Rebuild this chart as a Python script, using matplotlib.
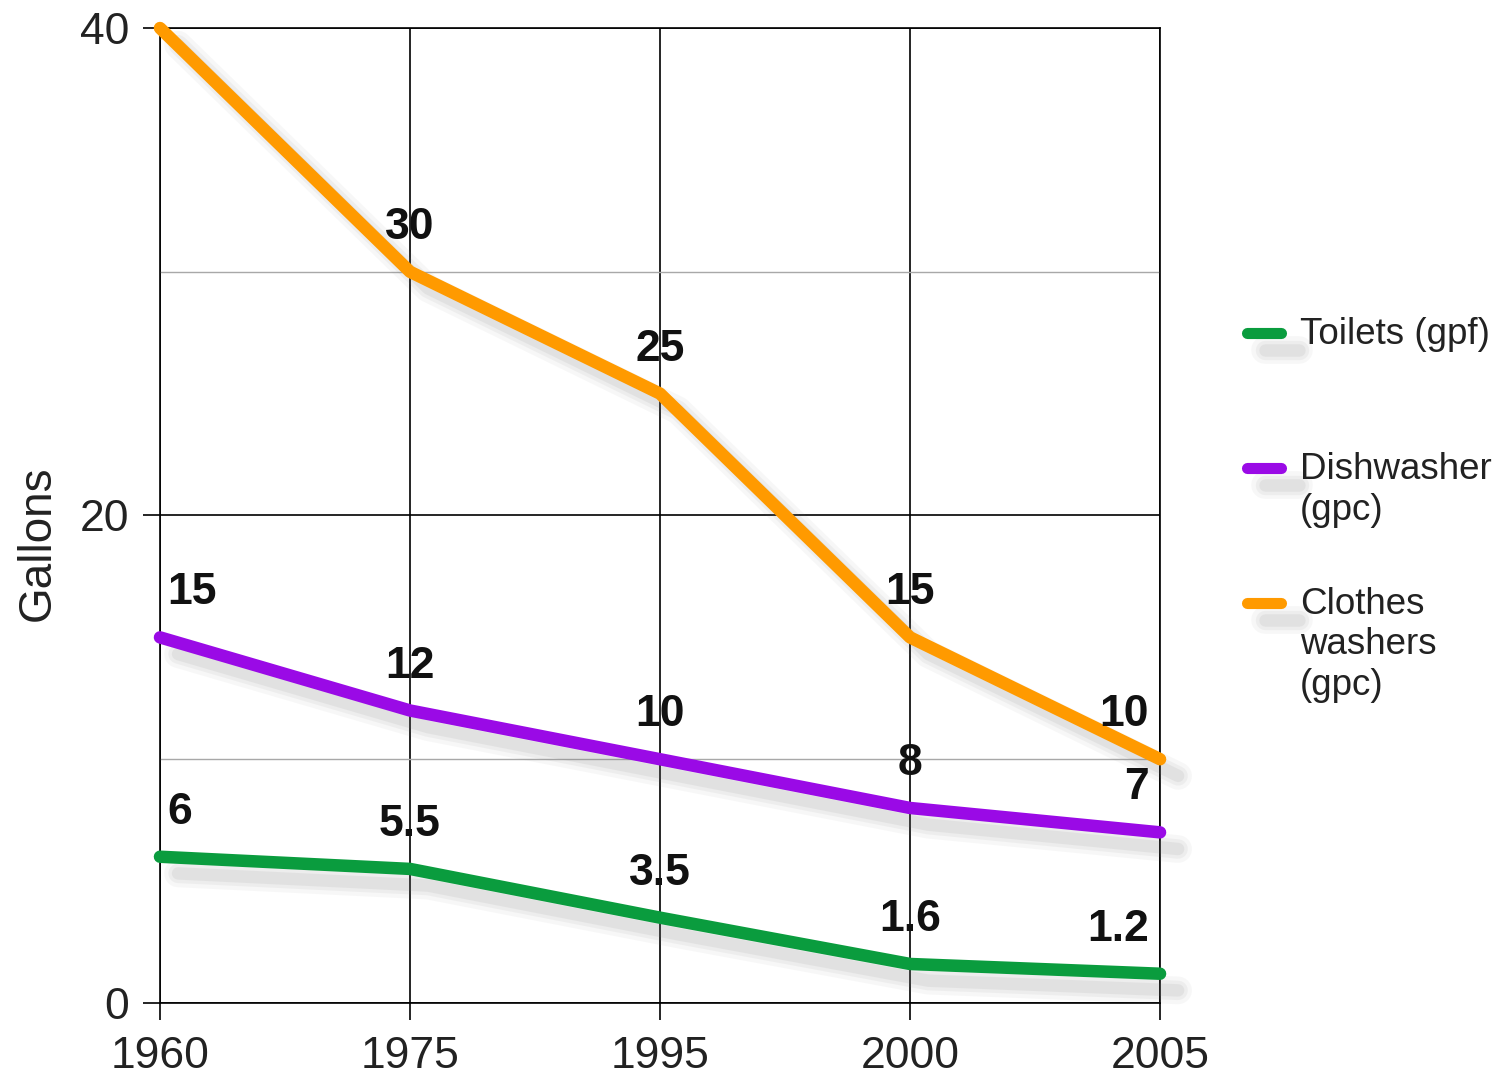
import matplotlib
matplotlib.use('Agg')
import matplotlib.pyplot as plt
import matplotlib.patheffects as pe
from matplotlib.lines import Line2D
from matplotlib.ticker import MultipleLocator

plt.rcParams['font.family'] = ['Liberation Sans', 'DejaVu Sans']

# Water use per fixture over time
years = ['1960', '1975', '1995', '2000', '2005']
toilets = [6, 5.5, 3.5, 1.6, 1.2]
dishwasher = [15, 12, 10, 8, 7]
clothes_washers = [40, 30, 25, 15, 10]

series_names = ['Toilets (gpf)', 'Dishwasher\n(gpc)', 'Clothes\nwashers\n(gpc)']
series_values = [toilets, dishwasher, clothes_washers]
series_colors = ['#0a9c3e', '#9a0ae6', '#ff9a00']
# first clothes washer point carries no value label
label_skip = [[], [], [0]]


def shadowed():
    # soft grey drop shadow built from a few stacked strokes
    return [
        pe.SimpleLineShadow(offset=(13, -12), shadow_color='#808080', alpha=0.06, linewidth=20),
        pe.SimpleLineShadow(offset=(13, -12), shadow_color='#808080', alpha=0.08, linewidth=14),
        pe.SimpleLineShadow(offset=(13, -12), shadow_color='#808080', alpha=0.10, linewidth=9),
        pe.Normal(),
    ]


fig = plt.figure(figsize=(15.05, 10.78), dpi=100)
ax = fig.add_axes([0.1063, 0.0696, 0.6645, 0.9044])

x = list(range(len(years)))
for vals, color in zip(series_values, series_colors):
    ax.plot(x, vals, color=color, lw=9, solid_capstyle='round', solid_joinstyle='round',
            clip_on=False, zorder=3, path_effects=shadowed())

# value labels above each point
for vals, skip in zip(series_values, label_skip):
    for i, v in enumerate(vals):
        if i in skip:
            continue
        if i == 0:
            ha, dx = 'left', 5
        elif i == len(vals) - 1:
            ha, dx = 'right', -8
        else:
            ha, dx = 'center', 0
        ax.annotate(f'{v:g}', (i, v), xytext=(dx, 32), textcoords='offset points',
                    ha=ha, va='center', fontsize=32, fontweight='bold', color='#111111',
                    zorder=4)

ax.set_xlim(0, len(years) - 1)
ax.set_ylim(0, 40)
ax.set_xticks(x)
ax.set_xticklabels(years)
ax.yaxis.set_major_locator(MultipleLocator(20))
ax.yaxis.set_minor_locator(MultipleLocator(10))

ax.grid(True, which='major', color='black', lw=1.2, zorder=1)
ax.grid(True, which='minor', axis='y', color='#a8a8a8', lw=1.0, zorder=1)
ax.set_axisbelow(True)

for s in ax.spines.values():
    s.set_linewidth(1.2)
    s.set_color('black')

ax.tick_params(axis='both', which='major', direction='out', length=12, width=1.2,
               labelsize=32, labelcolor='#222222')
ax.tick_params(axis='y', which='minor', length=0)
ax.tick_params(axis='y', pad=10)
ax.tick_params(axis='x', pad=12)

ax.set_ylabel('Gallons', fontsize=33, color='#222222')
ax.yaxis.set_label_coords(-0.100, 0.472)

# legend drawn at figure level so the key sits beside the first text line
handle_y = [333, 468, 603]
text_y = [335, 490, 645]
W, H = 1505, 1078
for name, color, hy, ty in zip(series_names, series_colors, handle_y, text_y):
    fig.add_artist(Line2D([1247 / W, 1281 / W], [1 - hy / H, 1 - hy / H],
                          transform=fig.transFigure, color=color, lw=8,
                          solid_capstyle='round', path_effects=shadowed()))
    fig.text(1300 / W, 1 - ty / H, name, fontsize=26.5, color='#222222',
             ha='left', va='center', linespacing=1.2)

fig.savefig('out.png', dpi=100)
